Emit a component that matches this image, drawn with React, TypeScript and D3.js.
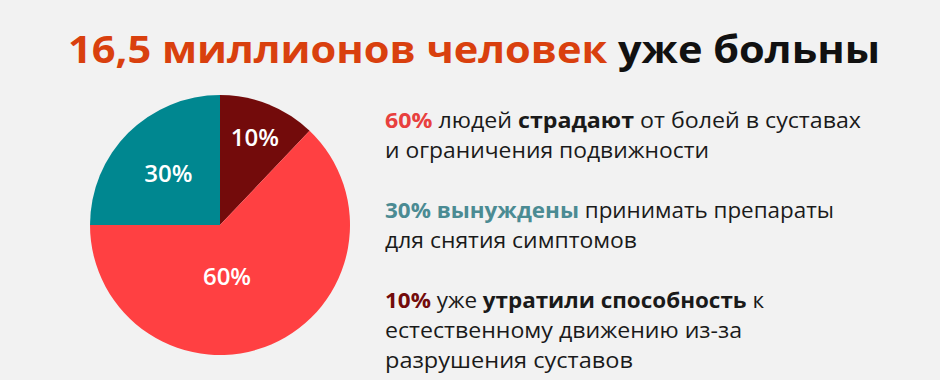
import React from "react";
import * as d3 from "d3";

const categories = ["10%", "60%", "30%"];
const values = [12.1, 62.9, 25];
const colors = ["#730b0b", "#ff4042", "#008790"];

const titleParts = [
  { text: "16,5 миллионов человек ", color: "#d9400e" },
  { text: "уже больны", color: "#111111" },
];

type Seg = { t: string; b?: boolean; c?: string };
const paragraphs: Seg[][][] = [
  [
    [
      { t: "60%", b: true, c: "#e8403e" },
      { t: " людей " },
      { t: "страдают", b: true },
      { t: " от болей в суставах" },
    ],
    [{ t: "и ограничения подвижности" }],
  ],
  [
    [
      { t: "30% вынуждены", b: true, c: "#4b8b93" },
      { t: " принимать препараты" },
    ],
    [{ t: "для снятия симптомов" }],
  ],
  [
    [
      { t: "10%", b: true, c: "#730b0b" },
      { t: " уже " },
      { t: "утратили способность", b: true },
      { t: " к" },
    ],
    [{ t: "естественному движению из-за" }],
    [{ t: "разрушения суставов" }],
  ],
];

// layout
const W = 940;
const H = 380;
const cx = 220;
const cy = 225;
const R = 130;
const labelR = [94, 52, 73];
const labelAngleShift = [0, 0.27, 0];
const lineWidths = [
  [476, 324],
  [449, 252],
  [379, 357, 248],
];
const paraTop = [128, 218, 308];
const lineH = 30;
const textX = 385;
const FONT = "'Open Sans', 'Noto Sans', sans-serif";

export default function App() {
  const pie = d3
    .pie<number>()
    .sort(null)
    .startAngle(0)
    .endAngle(2 * Math.PI)
    .value((d) => d);
  const arcs = pie(values);
  const arc = d3.arc<d3.PieArcDatum<number>>().innerRadius(0).outerRadius(R);

  return (
    <svg
      width={W}
      height={H}
      style={{ position: "absolute", left: 0, top: 0, background: "#f2f2f2" }}
    >
      <rect x={0} y={0} width={W} height={H} fill="#f2f2f2" />
      <text
        x={68}
        y={63}
        fontFamily={FONT}
        fontWeight={700}
        fontSize={38}
        textLength={812}
        lengthAdjust="spacingAndGlyphs"
      >
        {titleParts.map((p, i) => (
          <tspan key={i} fill={p.color}>
            {p.text}
          </tspan>
        ))}
      </text>
      <g transform={`translate(${cx},${cy})`}>
        {arcs.map((a, i) => (
          <path key={i} d={arc(a) || ""} fill={colors[i]} />
        ))}
        {arcs.map((a, i) => {
          const ang = (a.startAngle + a.endAngle) / 2 + labelAngleShift[i];
          const x = Math.sin(ang) * labelR[i];
          const y = -Math.cos(ang) * labelR[i];
          return (
            <text
              key={"l" + i}
              x={x}
              y={y}
              dy="0.36em"
              textAnchor="middle"
              fill="#ffffff"
              fontFamily={FONT}
              fontWeight={600}
              fontSize={24}
            >
              {categories[i]}
            </text>
          );
        })}
      </g>
      {paragraphs.map((para, pi) =>
        para.map((line, li) => (
          <text
            key={pi + "-" + li}
            x={textX}
            y={paraTop[pi] + li * lineH}
            fontFamily={FONT}
            fontSize={21}
            fill="#1a1a1a"
            textLength={lineWidths[pi][li]}
            lengthAdjust="spacingAndGlyphs"
          >
            {line.map((s, si) => (
              <tspan
                key={si}
                fontWeight={s.b ? 700 : 400}
                fill={s.c || "#1a1a1a"}
              >
                {s.t}
              </tspan>
            ))}
          </text>
        ))
      )}
    </svg>
  );
}
